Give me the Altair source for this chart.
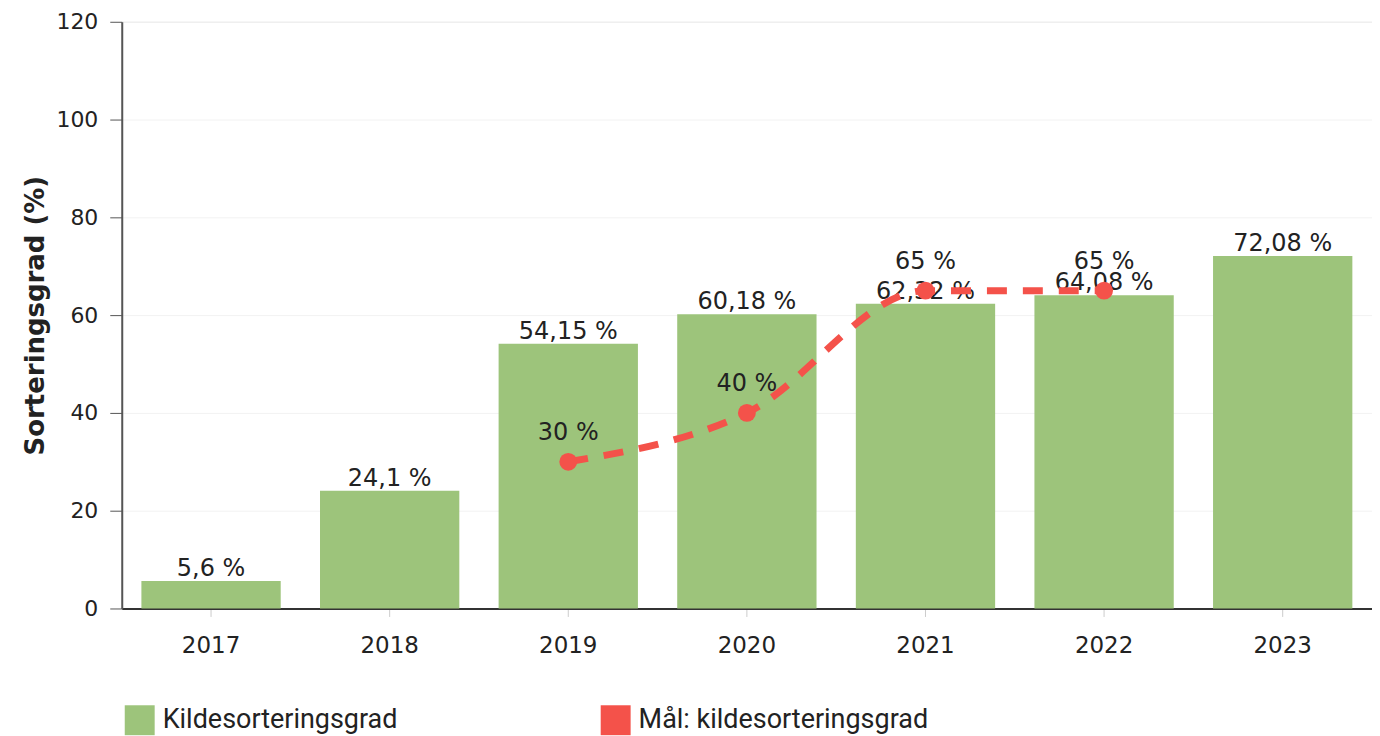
import altair as alt
import pandas as pd

years = ["2017", "2018", "2019", "2020", "2021", "2022", "2023"]
actual = [5.6, 24.1, 54.15, 60.18, 62.32, 64.08, 72.08]
target_years = ["2019", "2020", "2021", "2022"]
target = [30, 40, 65, 65]
series_names = ["Kildesorteringsgrad", "Mål: kildesorteringsgrad"]

GREEN = "#9dc47b"
RED = "#f4524a"
FONT = "DejaVu Sans"


def fmt(v):
    s = ("%.2f" % v).rstrip("0").rstrip(".")
    return s.replace(".", ",") + " %"


bars_df = pd.DataFrame({
    "year": years,
    "value": actual,
    "label": [fmt(v) for v in actual],
    "series": series_names[0],
})
goal_df = pd.DataFrame({
    "year": target_years,
    "value": target,
    "label": [fmt(v) for v in target],
})

x = alt.X(
    "year:N",
    title=None,
    scale=alt.Scale(domain=years, paddingInner=0.22, paddingOuter=0.11),
    axis=alt.Axis(labelAngle=0, labelFontSize=23, labelFont=FONT, labelColor="#222",
                  labelPadding=18, tickColor="#cccccc", tickSize=8, domainColor="#333",
                  domainWidth=2, grid=False),
)
y = alt.Y(
    "value:Q",
    title="Sorteringsgrad (%)",
    scale=alt.Scale(domain=[0, 120]),
    axis=alt.Axis(values=[0, 20, 40, 60, 80, 100, 120], labelFontSize=22, labelFont=FONT,
                  labelColor="#222", tickColor="#555", tickSize=12, labelPadding=12,
                  domainColor="#555", domainWidth=2, gridColor="#f2f2f2",
                  titleFontSize=26, titleFont=FONT, titleFontWeight="bold",
                  titleColor="#222", titlePadding=7),
)

bars = alt.Chart(bars_df).mark_bar(opacity=1).encode(
    x=x,
    y=y,
    color=alt.Color(
        "series:N",
        scale=alt.Scale(domain=series_names, range=[GREEN, RED]),
        legend=alt.Legend(
            title=None, orient="none", direction="horizontal", legendX=3, legendY=685,
            symbolType="square", symbolSize=900, symbolStrokeWidth=0,
            labelFontSize=27, labelFont="Roboto", labelColor="#222", labelLimit=400,
            symbolOffset=0, columnPadding=203, labelOffset=8, padding=0,
        ),
    ),
)

bar_labels = alt.Chart(bars_df).mark_text(
    baseline="alphabetic", dy=-5, fontSize=24, font=FONT, color="#222"
).encode(x=x, y=y, text="label:N")

line = alt.Chart(goal_df).mark_line(
    color=RED, strokeWidth=7, strokeDash=[20, 16], interpolate="monotone"
).encode(x=x, y=y)

points = alt.Chart(goal_df).mark_circle(color=RED, size=320, opacity=1).encode(x=x, y=y)

goal_labels = alt.Chart(goal_df).mark_text(
    baseline="alphabetic", dy=-22, fontSize=24, font=FONT, color="#222"
).encode(x=x, y=y, text="label:N")

chart = alt.layer(bars, bar_labels, line, points, goal_labels).properties(
    width=1253, height=588
).configure_view(stroke=None).configure(padding={"left": 15, "top": 2, "right": 0, "bottom": 0})

chart.save("out.html", embed_options={"renderer": "svg", "actions": False})
